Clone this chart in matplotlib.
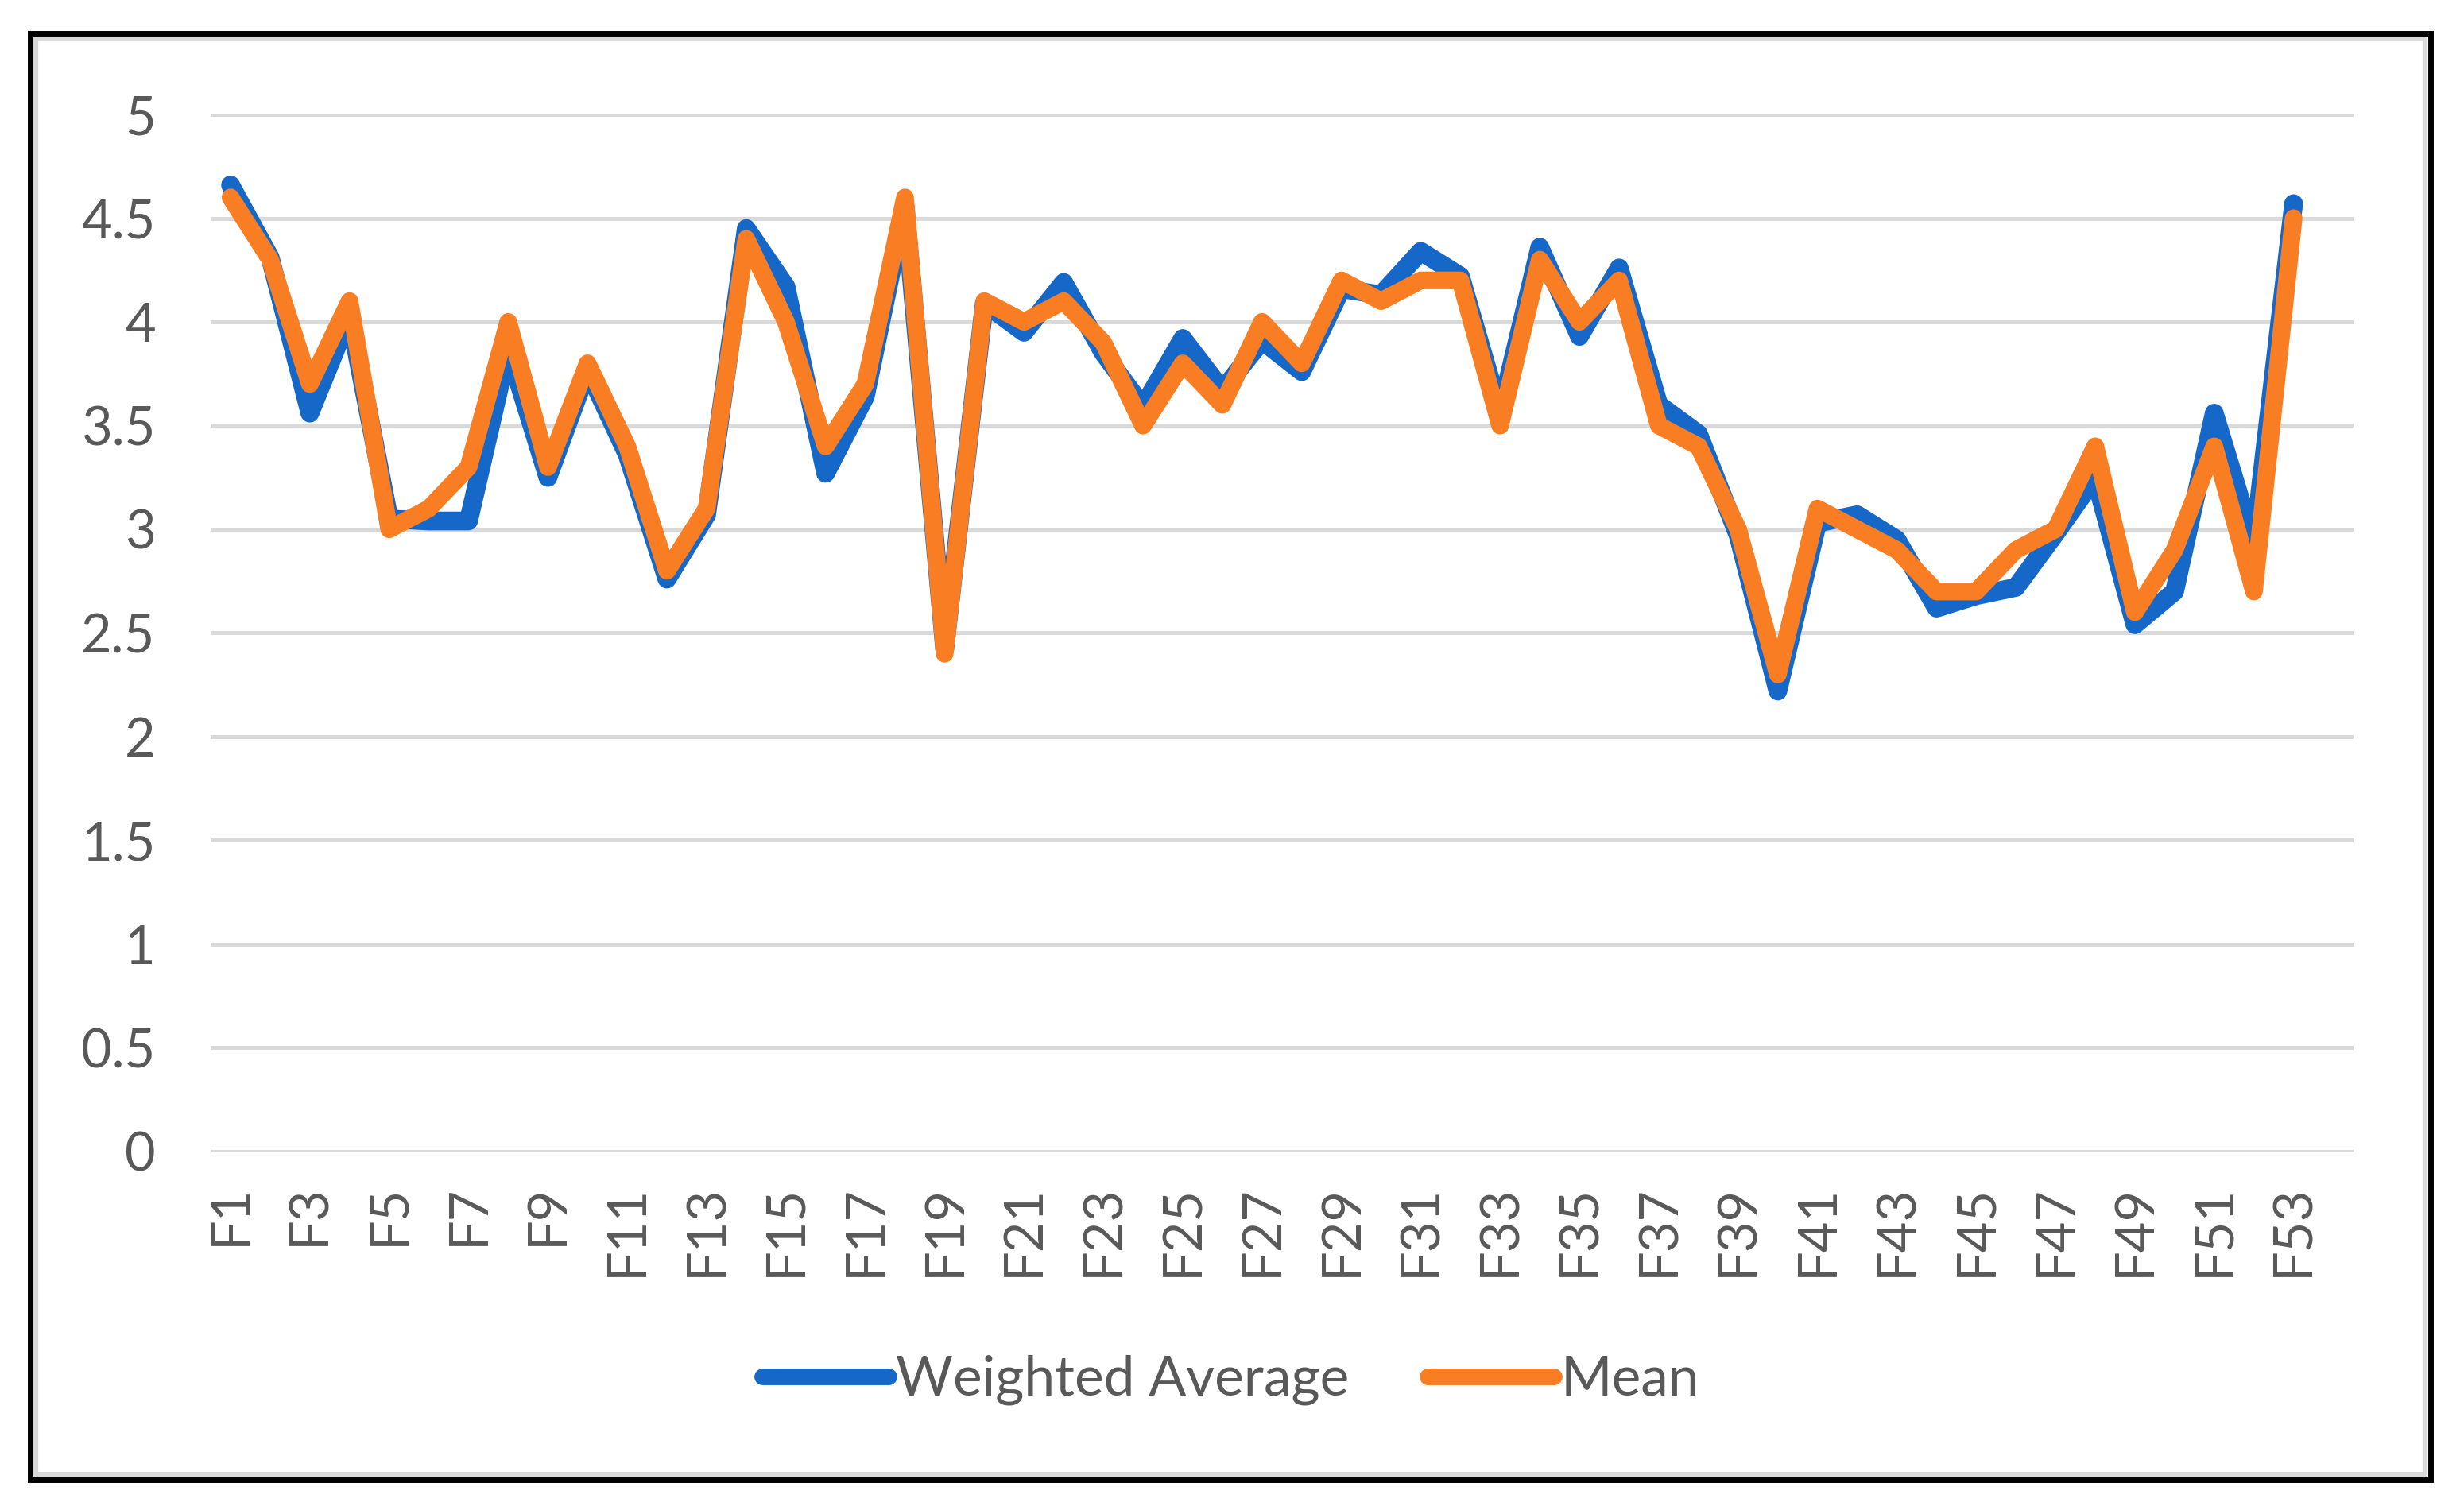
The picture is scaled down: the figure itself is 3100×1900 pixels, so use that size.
import matplotlib
matplotlib.use("Agg")
import matplotlib.pyplot as plt
from matplotlib.patches import Rectangle
import numpy as np

# values
categories = ["F" + str(i) for i in range(1, 54)]
weighted_avg = [4.66, 4.31, 3.56, 4.03, 3.05, 3.04, 3.04, 3.87, 3.25, 3.77,
                3.36, 2.76, 3.07, 4.45, 4.17, 3.27, 3.64, 4.56, 2.42, 4.09,
                3.95, 4.19, 3.85, 3.59, 3.92, 3.67, 3.91, 3.76, 4.16, 4.13,
                4.34, 4.22, 3.56, 4.36, 3.93, 4.26, 3.60, 3.46, 2.97, 2.22,
                3.03, 3.07, 2.95, 2.62, 2.68, 2.72, 2.98, 3.25, 2.54, 2.70,
                3.56, 2.93, 4.57]
mean = [4.6, 4.3, 3.7, 4.1, 3.0, 3.1, 3.3, 4.0, 3.3, 3.8,
        3.4, 2.8, 3.1, 4.4, 4.0, 3.4, 3.7, 4.6, 2.4, 4.1,
        4.0, 4.1, 3.9, 3.5, 3.8, 3.6, 4.0, 3.8, 4.2, 4.1,
        4.2, 4.2, 3.5, 4.3, 4.0, 4.2, 3.5, 3.4, 3.0, 2.3,
        3.1, 3.0, 2.9, 2.7, 2.7, 2.9, 3.0, 3.4, 2.6, 2.9,
        3.4, 2.7, 4.5]
y_ticks = [0, 0.5, 1, 1.5, 2, 2.5, 3, 3.5, 4, 4.5, 5]
y_tick_labels = ["0", "0.5", "1", "1.5", "2", "2.5", "3", "3.5", "4", "4.5", "5"]

blue = "#1568C8"
orange = "#F97D22"
text_gray = "#595959"
grid_gray = "#D9D9D9"

plt.rcParams["font.family"] = ["Lato", "DejaVu Sans"]

fig = plt.figure(figsize=(31, 19), dpi=100)
ax = fig.add_axes([0.0855, 0.2374, 0.955 - 0.0855, 0.9242 - 0.2374])

x = np.arange(len(categories))
ax.plot(x, weighted_avg, color=blue, lw=17, solid_joinstyle="round",
        solid_capstyle="round", label="Weighted Average", zorder=3)
ax.plot(x, mean, color=orange, lw=16, solid_joinstyle="round",
        solid_capstyle="round", label="Mean", zorder=4)

# one empty slot at the end, like the source sheet
ax.set_xlim(-0.5, len(categories) + 0.5)
ax.set_ylim(0, 5)

ax.set_yticks(y_ticks)
ax.set_yticklabels(y_tick_labels)
ax.set_xticks(x[::2])
ax.set_xticklabels(categories[::2], rotation=90, va="top", ha="center")

ax.tick_params(axis="y", length=0, pad=50, labelsize=48, labelcolor=text_gray)
ax.tick_params(axis="x", length=0, pad=30, labelsize=48, labelcolor=text_gray)

ax.yaxis.grid(True, color=grid_gray, lw=3.6)
ax.set_axisbelow(True)
for s in ax.spines.values():
    s.set_visible(False)

leg = fig.legend(loc="center", bbox_to_anchor=(0.4995, 0.086), ncol=2,
                 frameon=False, fontsize=50, handlelength=2.3,
                 handletextpad=0.12, columnspacing=1.42)
for t in leg.get_texts():
    t.set_color(text_gray)
for h in leg.get_lines():
    h.set_linewidth(15)

# gray chart border and black outer frame
fig.patches.append(Rectangle((45 / 3100, 1 - 1855 / 1900), (3051 - 45) / 3100,
                             (1855 - 49) / 1900, transform=fig.transFigure,
                             fill=False, edgecolor=grid_gray, lw=4.5))
fig.patches.append(Rectangle((38 / 3100, 1 - 1862 / 1900), (3058 - 38) / 3100,
                             (1862 - 42) / 1900, transform=fig.transFigure,
                             fill=False, edgecolor="black", lw=5))

fig.savefig("out.png", dpi=100, facecolor="white")
